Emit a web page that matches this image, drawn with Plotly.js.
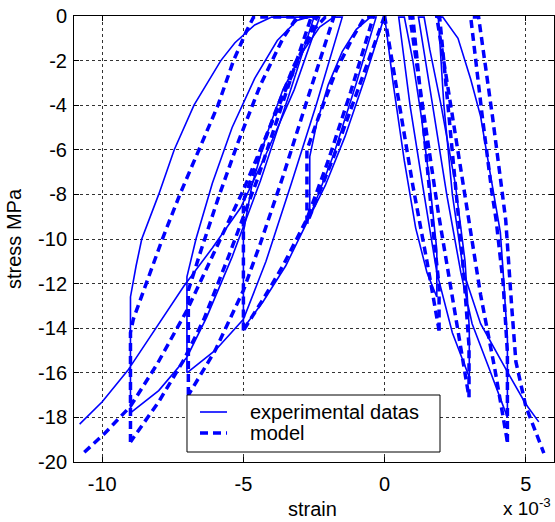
<!DOCTYPE html>
<html>
<head>
<meta charset="utf-8">
<script src="https://cdn.plot.ly/plotly-3.0.1.min.js"></script>
<style>html,body{margin:0;padding:0;background:#fff;}#chart{width:555px;height:522px;}</style>
</head>
<body>
<div id="chart"></div>
<script>
// strain values in units of 1e-3, stress in MPa
// ---- experimental datas (solid) : axial side ----
const expL_load0 = [[0,0],[-0.7,-2.8],[-1.4,-5.4],[-2.1,-7.6],[-2.65,-9.0]];
const expL_cyc1 = [[-2.65,-9.0],[-2.65,-6.3],[-2.4,-4.8],[-2.0,-3.1],[-1.5,-1.6],[-1.0,-0.6],[-0.5,-0.05],[-0.3,-0.05],[-1.0,-3.0],[-1.8,-6.2],[-2.65,-9.0],[-3.5,-11.2],[-4.3,-12.8],[-5.0,-14.0]];
const expL_cyc2 = [[-5.0,-14.0],[-5.0,-9.7],[-4.7,-7.6],[-4.2,-5.4],[-3.6,-3.3],[-2.9,-1.6],[-2.3,-0.5],[-1.8,-0.05],[-1.5,-0.05],[-2.4,-3.9],[-3.3,-7.5],[-4.2,-11.0],[-5.0,-13.6],[-6.0,-15.0],[-7.0,-16.0]];
const expL_cyc3 = [[-7.0,-16.0],[-7.0,-11.7],[-6.68,-10],[-6.1,-7.5],[-5.4,-5],[-4.6,-2.8],[-3.8,-1.1],[-3.1,-0.2],[-2.7,-0.05],[-2.5,-0.05],[-3.4,-3.6],[-4.4,-7.4],[-5.4,-10.8],[-6.3,-13.5],[-7.0,-15.3],[-8.0,-16.8],[-9.0,-17.8]];
const expL_cyc4 = [[-9.0,-17.8],[-9.0,-12.6],[-8.8,-11.2],[-8.6,-10],[-8.0,-8],[-7.45,-6],[-6.75,-4],[-5.8,-2],[-5.3,-1.2],[-4.6,-0.4],[-4.0,-0.05],[-2.3,-0.05],[-3.2,-3.3],[-4.2,-6.2],[-5.1,-8.6],[-6.1,-10.4],[-7.1,-12.1],[-8.1,-14.0],[-9.1,-15.9],[-10.0,-17.3],[-10.8,-18.3]];
// ---- experimental datas (solid) : lateral side ----
const expR_load0 = [[0,0],[0.3,-3],[0.7,-6.5],[1.1,-9.5],[1.5,-11.5],[1.85,-12.6]];
const expR_cyc1 = [[1.85,-12.6],[1.85,-10.5],[1.6,-7.5],[1.3,-4.5],[1.0,-2],[0.7,-0.05],[0.5,-0.05],[0.9,-4],[1.4,-8],[1.85,-11.5],[2.4,-14.2],[3.0,-16.2]];
const expR_cyc2 = [[3.0,-16.2],[3.0,-14],[2.85,-11],[2.5,-7.5],[2.0,-4],[1.6,-1.5],[1.4,-0.05],[1.2,-0.05],[1.7,-4],[2.2,-8],[2.7,-11.5],[3.1,-13.8],[3.7,-15.8],[4.35,-18.0]];
const expR_cyc3 = [[4.35,-18.0],[4.35,-14.5],[4.2,-11.5],[4.1,-9.7],[3.76,-7.2],[3.4,-4.5],[3.05,-2.84],[2.6,-1.0],[2.06,-0.05],[1.9,-0.05],[2.1,-4],[2.4,-8],[2.8,-11.5],[3.4,-13.8],[4.37,-16.0],[5.0,-17.4],[5.46,-18.2]];
// ---- model (dashed) : axial side ----
const modL_load0 = [[0,0],[-0.9,-3.2],[-1.8,-6.3],[-2.75,-9.3]];
const modL_cyc1 = [[-2.75,-9.3],[-2.75,-6.0],[-2.3,-4.4],[-1.7,-2.4],[-1.1,-0.9],[-0.7,-0.05],[-0.4,-0.05],[-1.2,-3.4],[-2.0,-6.5],[-2.75,-9.1],[-3.6,-11.2],[-4.3,-12.7],[-5.0,-14.1]];
const modL_cyc2 = [[-5.0,-14.1],[-5.0,-8.3],[-4.5,-6.5],[-3.9,-4.4],[-3.2,-2.2],[-2.5,-0.6],[-2.1,-0.05],[-1.8,-0.05],[-2.7,-3.6],[-3.6,-7.2],[-4.4,-10.2],[-5.0,-12.3],[-6.0,-15.0],[-6.95,-17.0]];
const modL_cyc3 = [[-6.95,-17.0],[-6.95,-12.3],[-6.5,-10.5],[-5.9,-8.2],[-5.2,-5.7],[-4.4,-3.1],[-3.6,-1.0],[-3.1,-0.05],[-2.6,-0.05],[-3.5,-3.5],[-4.5,-7.3],[-5.5,-10.7],[-6.4,-13.6],[-7.1,-15.4],[-8.0,-17.3],[-9.0,-19.1]];
const modL_cyc4 = [[-9.0,-19.1],[-9.0,-14.2],[-8.9,-13.6],[-8.45,-12],[-7.87,-10],[-7.25,-8],[-6.56,-6],[-5.9,-4],[-5.35,-2],[-4.9,-0.7],[-4.64,-0.05],[-2.4,-0.05],[-3.0,-1.8],[-4.0,-4.8],[-5.0,-7.8],[-6.0,-10.5],[-7.0,-13.2],[-8.05,-15.6],[-9.0,-17.5],[-9.9,-18.7],[-10.75,-19.7]];
// ---- model (dashed) : lateral side ----
const modR_load0 = [[0,0],[0.5,-3.8],[1.0,-7.6],[1.5,-11],[1.93,-14.1]];
const modR_cyc1 = [[1.93,-14.1],[1.93,-12.1],[1.75,-10],[1.5,-6.5],[1.25,-3.2],[1.0,-0.05],[0.9,-0.05],[1.4,-4.5],[1.9,-8.8],[2.4,-12.6],[2.7,-14.8],[2.99,-17.1]];
const modR_cyc2 = [[2.99,-17.1],[2.99,-14.8],[2.8,-11.5],[2.5,-7.5],[2.2,-3.6],[1.95,-0.05],[1.85,-0.05],[2.4,-4.5],[2.9,-8.5],[3.4,-12.5],[3.9,-15.8],[4.35,-19.1]];
const modR_cyc3 = [[4.35,-19.1],[4.35,-15.1],[4.2,-12],[3.95,-9.15],[3.8,-7.9],[3.46,-4.5],[3.05,-0.05],[3.33,-0.05],[3.82,-4.5],[4.17,-7.9],[4.29,-9.15],[4.5,-13],[4.65,-15.5],[5.0,-17.5],[5.64,-19.6]];

const seriesNames = ['experimental datas','model'];
const xTickVals = [-10,-5,0,5];
const xTickText = ['-10','-5','0','5'];
const yTickVals = [-20,-18,-16,-14,-12,-10,-8,-6,-4,-2,0];
const yTickText = ['-20','-18','-16','-14','-12','-10','-8','-6','-4','-2','0'];

function join(segs){
  const x=[], y=[];
  segs.forEach((s,i)=>{ if(i>0){x.push(null);y.push(null);} s.forEach(p=>{x.push(p[0]);y.push(p[1]);}); });
  return {x,y};
}
const exp = join([expL_load0,expL_cyc1,expL_cyc2,expL_cyc3,expL_cyc4,expR_load0,expR_cyc1,expR_cyc2,expR_cyc3]);
const mod = join([modL_load0,modL_cyc1,modL_cyc2,modL_cyc3,modL_cyc4,modR_load0,modR_cyc1,modR_cyc2,modR_cyc3]);

const font = 'Liberation Sans, Arial, sans-serif';
const blue = '#0000ff';
const solidLine = {color:blue, width:1.6};
const dashLine = {color:blue, width:3.5, dash:'8px,5px'};
const data = [
  {x:exp.x, y:exp.y, mode:'lines', name:seriesNames[0], connectgaps:false, line:solidLine, showlegend:false},
  {x:mod.x, y:mod.y, mode:'lines', name:seriesNames[1], connectgaps:false, line:dashLine, showlegend:false}
];
const axisCommon = {
  showline:true, linecolor:'#000', linewidth:1, mirror:'ticks', ticks:'inside', ticklen:5,
  tickcolor:'#000', showgrid:true, gridcolor:'#333', griddash:'dot', gridwidth:1,
  zeroline:false, tickfont:{family:font, size:20, color:'#000'}, tickmode:'array'
};
// legend box (paper coordinates of the plot area)
const lg = {x0:0.2354, x1:0.7625, y0:0.0224, y1:0.1502, sx0:0.2625, sx1:0.3188, tx:0.3625, r1:0.1121, r2:0.065};
const layout = {
  width:555, height:522, paper_bgcolor:'#fff', plot_bgcolor:'#fff',
  margin:{l:74, r:1, t:16, b:60},
  font:{family:font, color:'#000'},
  xaxis:Object.assign({}, axisCommon, {range:[-11,6], tickvals:xTickVals, ticktext:xTickText, ticklabelstandoff:4}),
  yaxis:Object.assign({}, axisCommon, {range:[-20,0], tickvals:yTickVals, ticktext:yTickText, ticklabelstandoff:2}),
  showlegend:false,
  shapes:[
    {type:'rect', xref:'paper', yref:'paper', x0:lg.x0, x1:lg.x1, y0:lg.y0, y1:lg.y1,
     line:{color:'#000', width:1}, fillcolor:'#fff', layer:'above'},
    {type:'line', xref:'paper', yref:'paper', x0:lg.sx0, x1:lg.sx1, y0:lg.r1, y1:lg.r1, line:solidLine, layer:'above'},
    {type:'line', xref:'paper', yref:'paper', x0:lg.sx0, x1:lg.sx1, y0:lg.r2, y1:lg.r2, line:dashLine, layer:'above'}
  ],
  annotations:[
    {text:seriesNames[0], xref:'paper', yref:'paper', x:lg.tx, y:lg.r1, showarrow:false,
     font:{family:font, size:20, color:'#000'}, xanchor:'left', yanchor:'middle'},
    {text:seriesNames[1], xref:'paper', yref:'paper', x:lg.tx, y:lg.r2, showarrow:false,
     font:{family:font, size:20, color:'#000'}, xanchor:'left', yanchor:'middle'},
    {text:'stress MPa', xref:'paper', yref:'paper', x:-0.125, y:0.5, showarrow:false, textangle:-90,
     font:{family:font, size:20, color:'#000'}, xanchor:'center', yanchor:'middle'},
    {text:'strain', xref:'paper', yref:'paper', x:0.496, y:-0.105, showarrow:false,
     font:{family:font, size:20, color:'#000'}, xanchor:'center', yanchor:'middle'},
    {text:'x 10<sup>-3</sup>', xref:'paper', yref:'paper', x:0.89, y:-0.1323, showarrow:false,
     font:{family:font, size:19, color:'#000'}, xanchor:'left', yanchor:'bottom'}
  ]
};
Plotly.newPlot('chart', data, layout, {displayModeBar:false, staticPlot:true});
</script>
</body>
</html>
